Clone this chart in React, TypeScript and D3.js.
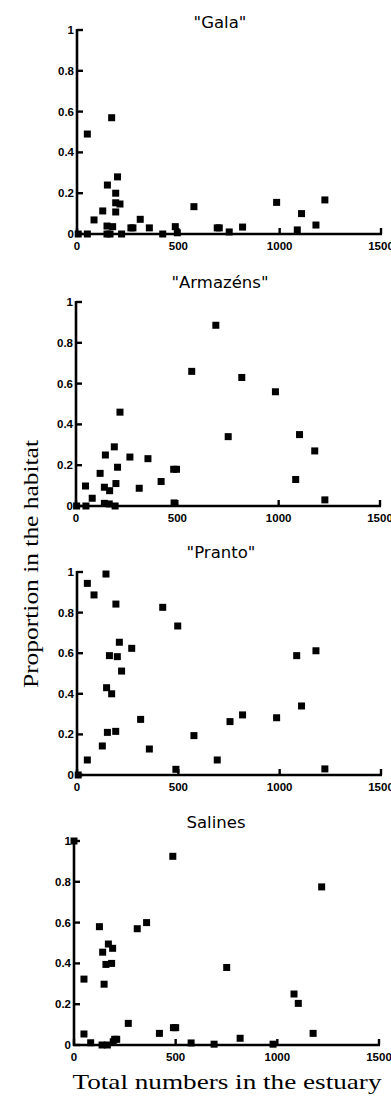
import React from 'react';
import * as d3 from 'd3';

// total numbers in the estuary (x) and proportion in the habitat (y), one pair per panel
const galaTotals = [6, 51, 51, 84, 127, 148, 148, 150, 163, 171, 176, 191, 191, 191, 200, 212, 220, 266, 276, 312, 357, 423, 485, 495, 577, 692, 702, 751, 817, 985, 1087, 1108, 1179, 1223];
const galaProps = [0, 0.49, 0, 0.069, 0.113, 0.039, 0, 0.24, 0, 0.57, 0.036, 0.2, 0.153, 0.108, 0.28, 0.147, 0, 0.03, 0.03, 0.072, 0.03, 0, 0.036, 0.006, 0.134, 0.03, 0.03, 0.01, 0.034, 0.155, 0.02, 0.1, 0.044, 0.167];

const armazensTotals = [3, 47, 49, 80, 119, 145, 140, 140, 164, 166, 189, 197, 193, 205, 217, 266, 312, 355, 420, 482, 496, 484, 571, 690, 751, 818, 984, 1084, 1103, 1178, 1228];
const armazensProps = [0, 0.098, 0, 0.038, 0.16, 0.25, 0.092, 0.013, 0.01, 0.075, 0.29, 0.11, 0, 0.19, 0.46, 0.24, 0.087, 0.232, 0.12, 0.18, 0.18, 0.015, 0.66, 0.886, 0.34, 0.63, 0.56, 0.13, 0.35, 0.27, 0.03];

const prantoTotals = [6, 51, 51, 84, 125, 143, 146, 150, 160, 171, 192, 191, 199, 209, 220, 270, 314, 357, 423, 488, 497, 577, 692, 755, 817, 985, 1084, 1108, 1179, 1223];
const prantoProps = [0, 0.944, 0.074, 0.887, 0.143, 0.99, 0.43, 0.21, 0.588, 0.4, 0.842, 0.215, 0.583, 0.654, 0.512, 0.624, 0.274, 0.128, 0.826, 0.028, 0.734, 0.194, 0.074, 0.263, 0.296, 0.282, 0.588, 0.34, 0.612, 0.03];

const salinesTotals = [0, 49, 49, 82, 125, 138, 141, 148, 157, 164, 169, 185, 190, 193, 200, 210, 267, 311, 357, 420, 486, 489, 500, 576, 689, 751, 817, 979, 1082, 1103, 1176, 1218];
const salinesProps = [1.0, 0.323, 0.054, 0.011, 0.58, 0, 0.455, 0.298, 0.395, 0, 0.495, 0.4, 0.474, 0.016, 0.028, 0.028, 0.106, 0.57, 0.6, 0.057, 0.925, 0.085, 0.085, 0.01, 0.004, 0.38, 0.033, 0.004, 0.25, 0.204, 0.057, 0.775];

const panelTitles = ['"Gala"', '"Armazéns"', '"Pranto"', 'Salines'];
const xTicks = [0, 500, 1000, 1500];
const yTicks = [0, 0.2, 0.4, 0.6, 0.8, 1];

const W = 391;
const H = 1100;

// layout per panel
const layout = [
  { left: 77, right: 381, top: 30, bottom: 234, titleY: 28, titleX: 220 },
  { left: 76, right: 380, top: 302, bottom: 506, titleY: 288, titleX: 220 },
  { left: 77, right: 381, top: 572, bottom: 775, titleY: 558, titleX: 221 },
  { left: 74, right: 379, top: 841, bottom: 1045, titleY: 828, titleX: 216 },
];

const series = [
  [galaTotals, galaProps],
  [armazensTotals, armazensProps],
  [prantoTotals, prantoProps],
  [salinesTotals, salinesProps],
];

const tickFont = "'Liberation Sans', Arial, sans-serif";
const titleFont = "'DejaVu Sans', Verdana, sans-serif";
const serif = "'Liberation Serif', 'Times New Roman', serif";

function Panel({ idx }: { idx: number }) {
  const l = layout[idx];
  const [xs, ys] = series[idx];
  const x = d3.scaleLinear().domain([0, 1500]).range([l.left, l.right]);
  const y = d3.scaleLinear().domain([0, 1]).range([l.bottom, l.top]);
  const sq = 7;
  const fmtY = (v: number) => (v === 0 || v === 1 ? String(v) : d3.format('.1f')(v));

  return (
    <g>
      <text x={l.titleX} y={l.titleY} textAnchor="middle" fontFamily={titleFont} fontSize={16.5} fill="#000">
        {panelTitles[idx]}
      </text>

      {/* axes */}
      <line x1={x(0)} x2={x(0)} y1={y(0) + 1} y2={y(1) - 1} stroke="#000" strokeWidth={2.6} />
      <line x1={x(0) - 1} x2={x(1500) + 1} y1={y(0)} y2={y(0)} stroke="#000" strokeWidth={2.6} />
      {yTicks.map((t) => (
        <g key={'y' + t}>
          <line x1={x(0)} x2={x(0) + 6} y1={y(t)} y2={y(t)} stroke="#000" strokeWidth={2.4} />
          <text x={x(0) - 3} y={y(t)} dy="0.35em" textAnchor="end" fontFamily={tickFont} fontWeight="bold" fontSize={11.5}>
            {fmtY(t)}
          </text>
        </g>
      ))}
      {xTicks.map((t) => (
        <g key={'x' + t}>
          <line x1={x(t)} x2={x(t)} y1={y(0)} y2={y(0) - 6} stroke="#000" strokeWidth={2.4} />
          <text x={x(t)} y={y(0) + 15.5} textAnchor="middle" fontFamily={tickFont} fontWeight="bold" fontSize={11.5}>
            {t}
          </text>
        </g>
      ))}

      {/* points */}
      {xs.map((v, i) => (
        <rect key={i} x={x(v) - sq / 2} y={y(ys[i]) - sq / 2} width={sq} height={sq} fill="#000" />
      ))}
    </g>
  );
}

export default function App() {
  return (
    <svg
      width={W}
      height={H}
      viewBox={`0 0 ${W} ${H}`}
      style={{ position: 'absolute', left: 0, top: 0, display: 'block', background: '#fff' }}
    >
      <rect width={W} height={H} fill="#fff" />
      {layout.map((_, i) => (
        <Panel key={i} idx={i} />
      ))}
      <text
        transform="translate(38,564) rotate(-90)"
        textAnchor="middle"
        fontFamily={serif}
        fontSize={21}
        textLength={248}
        lengthAdjust="spacingAndGlyphs"
      >
        Proportion in the habitat
      </text>
      <text
        x={227}
        y={1089}
        textAnchor="middle"
        fontFamily={serif}
        fontSize={21}
        textLength={309}
        lengthAdjust="spacingAndGlyphs"
      >
        Total numbers in the estuary
      </text>
    </svg>
  );
}
